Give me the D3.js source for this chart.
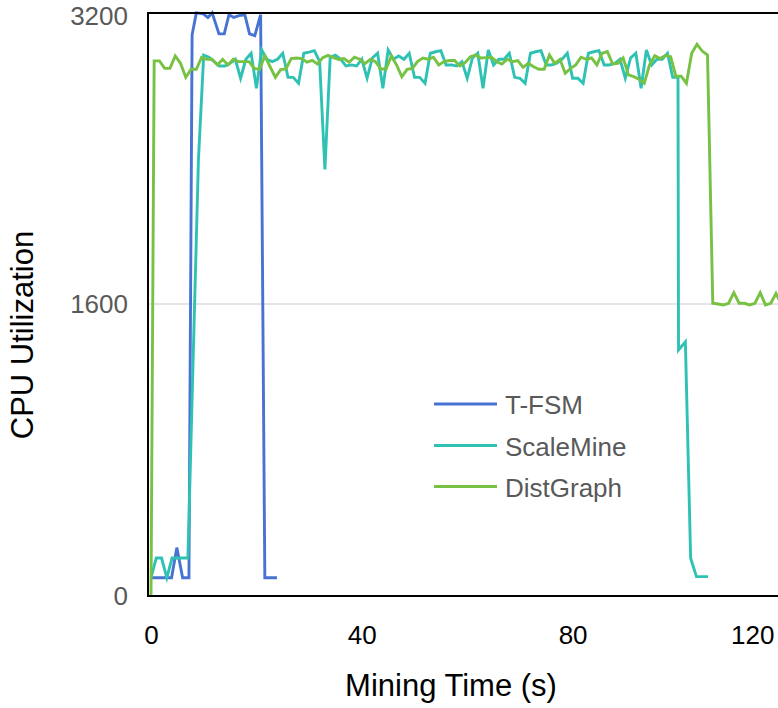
<!DOCTYPE html>
<html>
<head>
<meta charset="utf-8">
<script src="https://cdn.jsdelivr.net/npm/d3@7"></script>
<style>
  html, body { margin: 0; padding: 0; background: #fff; }
  svg { display: block; }
  text { font-family: "Liberation Sans", Arial, Helvetica, sans-serif; }
</style>
</head>
<body>
<svg id="chart" width="778" height="708"></svg>
<script>
// ---------------- DATA ----------------
const seriesNames = ["T-FSM", "ScaleMine", "DistGraph"];
const yTickValues = [0, 1600, 3200];
const xTickValues = [0, 40, 80, 120];

// T-FSM (irregular sample times)
const tfsmTime = [0, 3.9, 4.9, 6.0, 7.2, 7.8, 8.6, 9.9, 10.8, 11.6, 12.9, 13.9, 14.8, 15.7, 16.7, 17.8, 18.7, 19.7, 20.8, 21.6, 23.9];
const tfsmCPU  = [100, 100, 265, 100, 100, 3075, 3195, 3190, 3170, 3195, 3080, 3080, 3185, 3170, 3180, 3185, 3080, 3070, 3185, 100, 100];

// ScaleMine: one sample per second from t = 0 .. 100, then the tail
const scaleMineCPU = [
  100, 208, 208, 100, 208, 208, 208, 208, 1300, 2390,
  2964, 2952, 2928, 2904, 2904, 2919, 2941, 2837, 2941, 2974,
  2782, 2992, 2941, 2928, 2941, 2974, 2842, 2842, 2809, 2974,
  2980, 2988, 2928, 2337, 2952, 2964, 2941, 2904, 2910, 2904,
  2941, 2837, 2948, 2974, 2782, 2992, 2941, 2959, 2941, 2974,
  2842, 2842, 2809, 2974, 2982, 2988, 2910, 2910, 2904, 2928,
  2837, 2948, 2974, 2782, 2992, 2910, 2941, 2941, 2974, 2842,
  2837, 2809, 2974, 2982, 2988, 2910, 2910, 2919, 2941, 2974,
  2837, 2837, 2809, 2974, 2982, 2988, 2910, 2910, 2919, 2941,
  2837, 2948, 2974, 2782, 2992, 2910, 2941, 2941, 2974, 2842,
  2842
];
const scaleMineTailTime = [100.1, 101.4, 102.4, 103.5, 105.7];
const scaleMineTailCPU  = [1348, 1393, 207, 106, 106];

// DistGraph: starts at 0, then one sample per second from t = 0.6
const distGraphCPU = [
  2932, 2932, 2891, 2891, 2959, 2919, 2842, 2886, 2886, 2952,
  2941, 2941, 2910, 2941, 2910, 2941, 2928, 2928, 2928, 2891,
  2886, 2959, 2900, 2842, 2884, 2888, 2945, 2948, 2945, 2925,
  2935, 2915, 2950, 2962, 2950, 2940, 2945, 2925, 2952, 2941,
  2917, 2940, 2928, 2888, 2888, 2959, 2910, 2845, 2886, 2891,
  2930, 2948, 2941, 2952, 2910, 2928, 2934, 2934, 2904, 2922,
  2955, 2964, 2948, 2950, 2952, 2928, 2915, 2941, 2928, 2934,
  2897, 2919, 2900, 2886, 2886, 2964, 2919, 2941, 2864, 2891,
  2910, 2952, 2941, 2948, 2910, 2974, 2983, 2915, 2919, 2948,
  2855, 2846, 2832, 2809, 2910, 2960, 2945, 2962, 2955, 2848,
  2848, 2809, 2974, 3023, 2986, 2964, 1604, 1600, 1595, 1604,
  1662, 1604, 1604, 1595, 1604, 1662, 1595, 1604, 1658, 1600
];

// ---------------- BUILD ----------------
const scaleMineTime = d3.range(0, scaleMineCPU.length).concat(scaleMineTailTime);
const scaleMineAll = scaleMineCPU.concat(scaleMineTailCPU);
const distGraphTime = [0].concat(d3.range(0, distGraphCPU.length).map(k => 0.6 + k));
const distGraphAll = [0].concat(distGraphCPU);

const series = [
  { name: seriesNames[0], color: "#4773d2", pts: tfsmTime.map((t, i) => [t, tfsmCPU[i]]) },
  { name: seriesNames[1], color: "#2fc2b4", pts: scaleMineTime.map((t, i) => [t, scaleMineAll[i]]) },
  { name: seriesNames[2], color: "#77c143", pts: distGraphTime.map((t, i) => [t, distGraphAll[i]]) }
];

const W = 778, H = 708;
const frameLeft = 148, frameTop = 13, frameBottom = 596;

const x = d3.scaleLinear().domain([0, 120]).range([151, 783.4]);
const y = d3.scaleLinear().domain([0, 3200]).range([596, 12]);

const svg = d3.select("#chart");

// gridline at 1600
svg.append("line")
  .attr("x1", frameLeft).attr("x2", W)
  .attr("y1", y(1600)).attr("y2", y(1600))
  .attr("stroke", "#dcdcdc").attr("stroke-width", 1.5);

// lines
const line = d3.line().x(d => x(d[0])).y(d => y(d[1]));
svg.append("defs").append("clipPath").attr("id", "clip")
  .append("rect").attr("x", frameLeft).attr("y", 0).attr("width", W - frameLeft).attr("height", frameBottom);

const lg = svg.append("g").attr("clip-path", "url(#clip)");
series.forEach(s => {
  lg.append("path")
    .datum(s.pts)
    .attr("d", line)
    .attr("fill", "none")
    .attr("stroke", s.color)
    .attr("stroke-width", 2.9)
    .attr("stroke-linejoin", "miter")
    .attr("stroke-miterlimit", 4);
});

// frame
svg.append("line").attr("x1", frameLeft).attr("x2", frameLeft).attr("y1", frameTop - 1).attr("y2", frameBottom + 1)
  .attr("stroke", "#000").attr("stroke-width", 2);
svg.append("line").attr("x1", frameLeft - 1).attr("x2", W).attr("y1", frameTop).attr("y2", frameTop)
  .attr("stroke", "#000").attr("stroke-width", 2);
svg.append("line").attr("x1", frameLeft - 1).attr("x2", W).attr("y1", frameBottom).attr("y2", frameBottom)
  .attr("stroke", "#000").attr("stroke-width", 2);

// y axis
const yAxis = d3.axisLeft(y).tickValues(yTickValues).tickSize(0).tickPadding(20).tickFormat(d3.format("d"));
const yg = svg.append("g").attr("transform", `translate(${frameLeft},0)`).call(yAxis);
yg.select(".domain").remove();
yg.selectAll("text")
  .attr("font-size", 26)
  .attr("fill", "#595959")
  .attr("dy", "0.34em")
  .style("font-family", '"Liberation Sans", Arial, sans-serif');
yg.selectAll(".tick").filter(d => d === 3200).select("text").attr("dy", "0.42em").attr("y", 2);

// x axis
const xAxis = d3.axisBottom(x).tickValues(xTickValues).tickSize(0).tickPadding(30).tickFormat(d3.format("d"));
const xg = svg.append("g").attr("transform", `translate(0,${frameBottom})`).call(xAxis);
xg.select(".domain").remove();
xg.selectAll("text")
  .attr("font-size", 26)
  .attr("fill", "#000")
  .attr("dy", "0.71em")
  .style("font-family", '"Liberation Sans", Arial, sans-serif');
// the last label is kept inside the picture
xg.selectAll(".tick").filter(d => d === 120).select("text")
  .attr("text-anchor", "end").attr("x", (W - 4) - x(120));

// axis titles
svg.append("text")
  .attr("x", 451).attr("y", 696)
  .attr("text-anchor", "middle")
  .attr("font-size", 31)
  .attr("fill", "#000")
  .text("Mining Time (s)");

svg.append("text")
  .attr("transform", "translate(33,335) rotate(-90)")
  .attr("text-anchor", "middle")
  .attr("font-size", 31)
  .attr("fill", "#000")
  .text("CPU Utilization");

// legend
const legend = svg.append("g");
const legendY = [404, 445.5, 486.5];
series.forEach((s, i) => {
  legend.append("line")
    .attr("x1", 434).attr("x2", 497)
    .attr("y1", legendY[i]).attr("y2", legendY[i])
    .attr("stroke", s.color).attr("stroke-width", 2.9);
  legend.append("text")
    .attr("x", 505).attr("y", legendY[i] + 10)
    .attr("font-size", 26)
    .attr("fill", "#595959")
    .text(s.name);
});
</script>
</body>
</html>
